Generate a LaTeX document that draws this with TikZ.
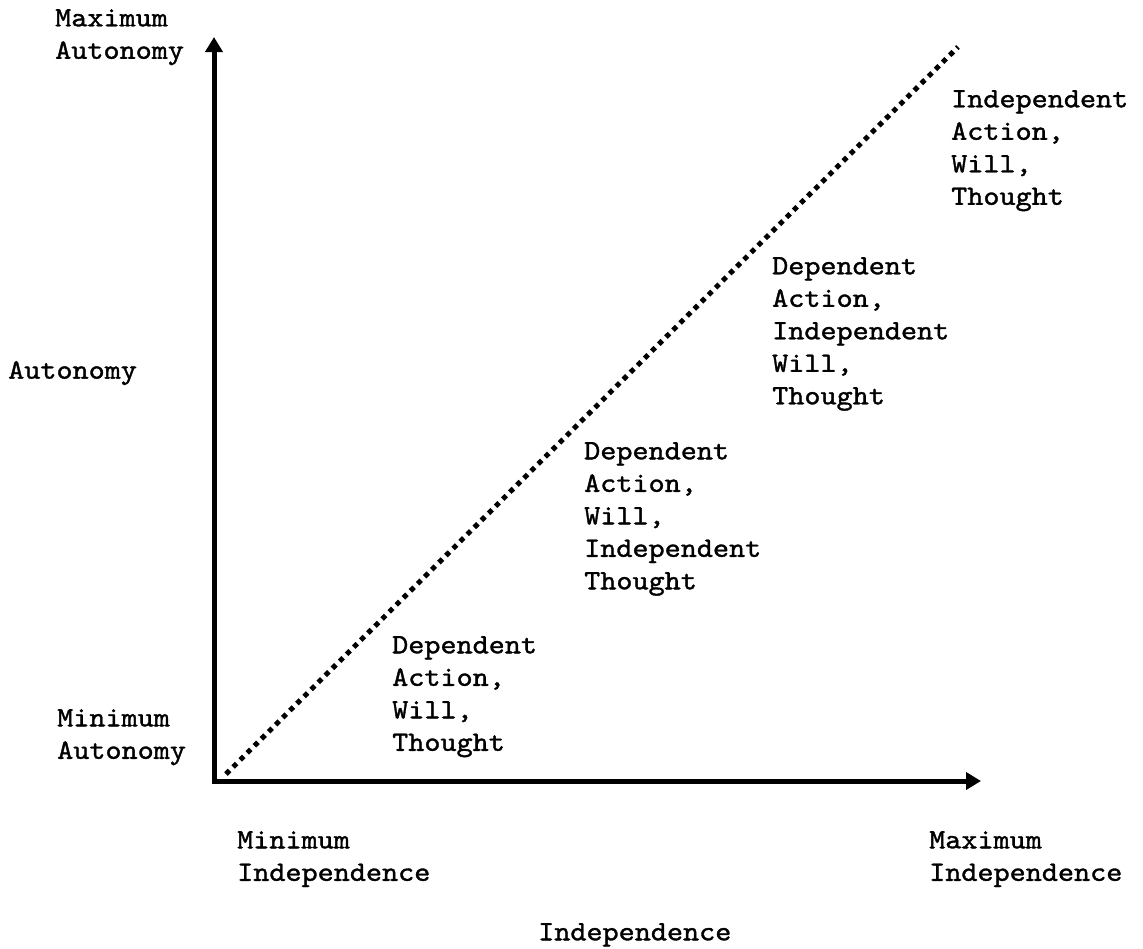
\documentclass[tikz,border=0pt]{standalone}
\usepackage{fontspec}
\setmonofont[FakeBold=1.3,FakeStretch=1.095]{lmmono10-regular.otf}
\usetikzlibrary{arrows.meta}
\begin{document}
\begin{tikzpicture}[x=1pt,y=-1pt,
  lbl/.style={font=\ttfamily\fontsize{28}{32.5}\selectfont, align=left, anchor=north west, inner sep=0pt},
  axis/.style={line width=5pt, -{Triangle[length=15pt,width=17pt]}},
  diag/.style={line width=5pt, dash pattern=on 5pt off 5pt}]
\useasboundingbox (0,0) rectangle (1143,948);
\coordinate (o) at (214,781);
\coordinate (ytop) at (214,37);
\coordinate (xend) at (981,781);
\coordinate (d0) at (226,774);
\coordinate (d1) at (958,47);
\draw[axis] ([yshift=-2.5pt]o) -- (ytop);
\draw[axis] ([xshift=-2.5pt]o) -- (xend);
\draw[diag] (d0) -- (d1);
\node[lbl] (maxa) at (55,9) {Maximum\\Autonomy};
\node[lbl] (auto) at (8,361) {Autonomy};
\node[lbl] (mina) at (57,709) {Minimum\\Autonomy};
\node[lbl] (mini) at (237,831) {Minimum\\Independence};
\node[lbl] (maxi) at (929,831) {Maximum\\Independence};
\node[lbl] (ind) at (538,923) {Independence};
\node[lbl] (s1) at (392,636) {Dependent\\Action,\\Will,\\Thought};
\node[lbl] (s2) at (584,442) {Dependent\\Action,\\Will,\\Independent\\Thought};
\node[lbl] (s3) at (772,257) {Dependent\\Action,\\Independent\\Will,\\Thought};
\node[lbl] (s4) at (951,90) {Independent\\Action,\\Will,\\Thought};
\end{tikzpicture}
\end{document}
